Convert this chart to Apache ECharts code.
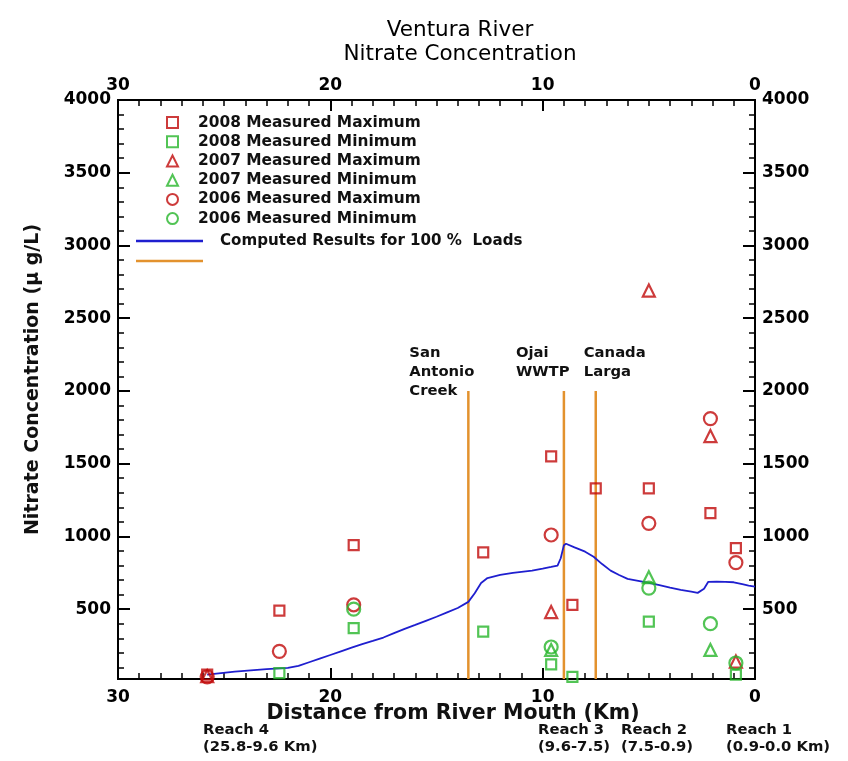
<!DOCTYPE html>
<html><head><meta charset="utf-8">
<script src="https://cdn.jsdelivr.net/npm/echarts@6/dist/echarts.min.js"></script>
<style>html,body{margin:0;padding:0;background:#fff}#c{width:848px;height:761px}</style>
</head><body><div id="c"></div>
<script>
// ---- data (distance km, nitrate ug/L) ----
const max2008 = [[25.8,50],[22.4,490],[18.9,940],[12.8,890],[9.6,1550],[8.6,530],[7.5,1330],[5.0,1330],[2.1,1160],[0.9,920]];
const min2008 = [[22.4,60],[18.9,370],[12.8,345],[9.6,120],[8.6,35],[5.0,415],[0.9,50]];
const max2007 = [[25.8,40],[9.6,480],[5.0,2690],[2.1,1690],[0.9,140]];
const min2007 = [[9.6,220],[5.0,720],[2.1,220]];
const max2006 = [[25.8,35],[22.4,210],[18.9,530],[9.6,1010],[5.0,1090],[2.1,1810],[0.9,820]];
const min2006 = [[18.9,500],[9.6,240],[5.0,645],[2.1,400],[0.9,130]];
const computedKm  = [25.8,24.5,23,22,21.5,21,20.5,20,19.5,19,18.5,18,17.5,17,16.5,16,15.5,15,14.5,14,13.5,13.2,12.9,12.6,12,11.4,10.5,10,9.6,9.3,9.15,9.0,8.9,8.5,8.0,7.6,7.2,6.8,6.4,6.0,5.5,5.0,4.5,4.0,3.5,3.0,2.7,2.4,2.2,1.8,1.4,1.0,0.6,0.3,0.0];
const computedVal = [50,70,88,96,110,135,160,185,210,235,260,282,305,335,365,392,420,448,478,508,550,610,680,714,735,750,765,778,790,800,850,940,950,925,895,860,810,765,735,708,695,680,665,648,632,620,612,640,688,690,688,685,672,662,655];
const sites = [["San\nAntonio\nCreek",13.5],["Ojai\nWWTP",9.0],["Canada\nLarga",7.5]];
const siteTop = 2000;
const yMajor = [500,1000,1500,2000,2500,3000,3500,4000];
const yMinor = [100,200,300,400,600,700,800,900,1100,1200,1300,1400,1600,1700,1800,1900,2100,2200,2300,2400,2600,2700,2800,2900,3100,3200,3300,3400,3600,3700,3800,3900];
const reaches = [["Reach 4\n(25.8-9.6 Km)",203],["Reach 3\n(9.6-7.5)",538],["Reach 2\n(7.5-0.9)",621],["Reach 1\n(0.9-0.0 Km)",726]];

const RED = '#c00a0a', GREEN = '#27b52a', BLUE = '#1f1fcf', ORANGE = '#e3922e';
const FONT = '"DejaVu Sans", Verdana, sans-serif';
const chart = echarts.init(document.getElementById('c'), null, {renderer:'canvas'});

function xAx(pos){
  return {type:'value', position:pos, min:0, max:30, interval:10, inverse:true,
    axisLine:{show:true, onZero:false, lineStyle:{color:'#000', width:2}},
    axisTick:{show:true, inside:true, length:11, lineStyle:{color:'#000', width:2}},
    minorTick:{show:true, splitNumber:10, length:6, lineStyle:{color:'#000', width:1.5}},
    splitLine:{show:false}, minorSplitLine:{show:false},
    axisLabel:{show:true, margin:pos==='top'?6:10, fontSize:17, fontWeight:'bold', color:'#000', fontFamily:FONT, showMinLabel:true, showMaxLabel:true},
    name: pos==='bottom' ? 'Distance from River Mouth (Km)' : '',
    nameLocation:'middle', nameGap:24, nameMoveOverlap:false,
    nameTextStyle:{fontSize:20.5, fontWeight:'bold', color:'#111', fontFamily:FONT, padding:[0,0,0,33]}
  };
}
function yAx(pos, minor){
  return {type:'value', position:pos, min:20, max:4000,
    axisLine:{show:true, onZero:false, lineStyle:{color:'#000', width:2}},
    axisTick:{show:true, inside:true, length: minor?6:12, customValues: minor?yMinor:yMajor, lineStyle:{color:'#000', width: minor?1.5:2}},
    splitLine:{show:false},
    axisLabel:{show:!minor, customValues:yMajor, formatter:v=>String(v), margin:7, fontSize:17, fontWeight:'bold', color:'#000', fontFamily:FONT},
    name: (pos==='left' && !minor) ? 'Nitrate Concentration (\u03bc g/L)' : '',
    nameLocation:'middle', nameGap:75, nameRotate:90, nameMoveOverlap:false,
    nameTextStyle:{fontSize:19, fontWeight:'bold', color:'#111', fontFamily:FONT, padding:[0,0,0,20]}
  };
}
function scat(name, data, symbol, color, size){
  return {name, type:'scatter', xAxisIndex:0, yAxisIndex:0, data, symbol, symbolSize:size,
    itemStyle:{color:'rgba(255,255,255,0)', borderColor:color, borderWidth:2.2}, z:5};
}
const series = [
  scat('2008 Measured Maximum', max2008, 'rect', RED, 10),
  scat('2008 Measured Minimum', min2008, 'rect', GREEN, 10),
  scat('2007 Measured Maximum', max2007, 'triangle', RED, 12),
  scat('2007 Measured Minimum', min2007, 'triangle', GREEN, 12),
  scat('2006 Measured Maximum', max2006, 'circle', RED, 13),
  scat('2006 Measured Minimum', min2006, 'circle', GREEN, 13),
  {name:'Computed Results for 100 %  Loads', type:'line', xAxisIndex:0, yAxisIndex:0,
   data: computedKm.map((k,i)=>[k, computedVal[i]]), showSymbol:false, symbol:'none',
   lineStyle:{color:BLUE, width:1.8}, itemStyle:{color:BLUE}, z:4, animation:false}
];
sites.forEach(s => series.push({name:' ', type:'line', xAxisIndex:0, yAxisIndex:0,
  data:[[s[1],20],[s[1],siteTop]], symbol:'none', showSymbol:false,
  lineStyle:{color:ORANGE, width:2.5}, itemStyle:{color:ORANGE}, z:3, animation:false}));

const option = {
  animation:false,
  backgroundColor:'#fff',
  title:{text:'Ventura River\nNitrate Concentration', left:455, textAlign:'center', top:13,
    textStyle:{fontSize:21.5, fontWeight:'normal', color:'#000', fontFamily:FONT, lineHeight:24}},
  grid:{left:118, right:93, top:100, bottom:82, containLabel:false},
  xAxis:[xAx('bottom'), xAx('top')],
  yAxis:[yAx('left',false), yAx('right',false), yAx('left',true), yAx('right',true)],
  legend:[
    {orient:'vertical', left:166, top:113, padding:0, itemWidth:11, itemHeight:11, itemGap:0, selectedMode:false,
     data:['2008 Measured Maximum','2008 Measured Minimum','2007 Measured Maximum','2007 Measured Minimum','2006 Measured Maximum','2006 Measured Minimum'],
     textStyle:{fontSize:15.4, fontWeight:'bold', color:'#111', fontFamily:FONT, lineHeight:19.2, padding:[0,0,0,15]}},
    {orient:'vertical', left:136, top:231, padding:0, itemWidth:67, itemHeight:2.5, itemGap:0, selectedMode:false,
     data:[{name:'Computed Results for 100 %  Loads', icon:'rect'},{name:' ', icon:'rect'}],
     textStyle:{fontSize:15.1, fontWeight:'bold', color:'#111', fontFamily:FONT, lineHeight:20, padding:[0,0,0,12]}}
  ],
  series
};
// extra axes need a series to render; attach empty series
option.series.push({type:'scatter', xAxisIndex:1, yAxisIndex:1, data:[], silent:true});
option.series.push({type:'scatter', xAxisIndex:0, yAxisIndex:2, data:[], silent:true});
option.series.push({type:'scatter', xAxisIndex:0, yAxisIndex:3, data:[], silent:true});
chart.setOption(option);

const graphics = [];
sites.forEach(s => {
  const p = chart.convertToPixel({xAxisIndex:0, yAxisIndex:0}, [s[1], siteTop]);
  const dx = s[1] > 12 ? -59 : (s[1] > 8 ? -48 : -12);
  graphics.push({type:'text', left:p[0]+dx, top:p[1]-47,
    style:{text:s[0], fontSize:14.8, fontWeight:'bold', fill:'#111', fontFamily:FONT, lineHeight:19}});
});
reaches.forEach(r => graphics.push({type:'text', left:r[1], top:722,
  style:{text:r[0], fontSize:14.8, fontWeight:'bold', fill:'#111', fontFamily:FONT, lineHeight:17}}));
chart.setOption({graphic:graphics});
</script></body></html>
